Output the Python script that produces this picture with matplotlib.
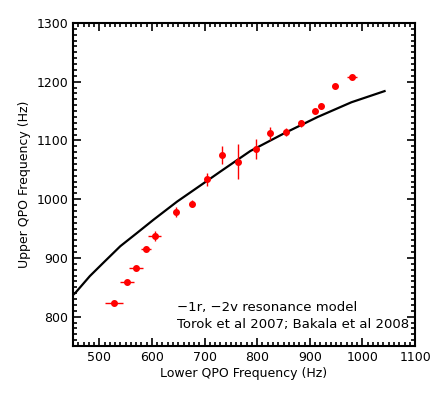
import matplotlib
matplotlib.use("Agg")
import matplotlib.pyplot as plt
import numpy as np
from matplotlib.ticker import MultipleLocator

lower = [528, 552, 570, 589, 605, 646, 676, 704, 734, 763, 798, 824, 855, 884, 909, 921, 948, 980]
upper = [823, 859, 882, 916, 937, 978, 992, 1034, 1075, 1064, 1085, 1112, 1115, 1129, 1150, 1158, 1192, 1208]
lower_err = [17, 13, 13, 10, 13, 3, 3, 3, 3, 3, 3, 3, 4, 4, 3, 3, 6, 10]
upper_err = [3, 3, 3, 5, 9, 9, 6, 11, 15, 30, 17, 11, 7, 6, 3, 5, 3, 3]

# resonance model curve
model_lower = [450, 455, 482, 508, 540, 571, 603, 648, 698, 730, 787, 851, 915, 979, 1042]
model_upper = [837, 841, 869, 892, 920, 942, 965, 996, 1027, 1047, 1082, 1112, 1140, 1165, 1184]

plt.rcParams['font.family'] = ['DejaVu Sans']
plt.rcParams['font.size'] = 9

fig = plt.figure(figsize=(4.36, 3.93), dpi=100)
ax = fig.add_axes([0.1674, 0.1196, 0.952 - 0.1674, 0.9415 - 0.1196])

ax.plot(model_lower, model_upper, color='black', linewidth=1.6, zorder=2)
ax.errorbar(lower, upper, xerr=lower_err, yerr=upper_err, fmt='o', color='red',
            markersize=4, elinewidth=1, capsize=0, zorder=3)

ax.set_xlim(450, 1100)
ax.set_ylim(750, 1300)
ax.xaxis.set_major_locator(MultipleLocator(100))
ax.xaxis.set_minor_locator(MultipleLocator(10))
ax.yaxis.set_major_locator(MultipleLocator(100))
ax.yaxis.set_minor_locator(MultipleLocator(10))
ax.tick_params(which='both', direction='in', top=True, right=True, width=1.2)
ax.tick_params(which='major', length=6)
ax.tick_params(which='minor', length=3)
for s in ax.spines.values():
    s.set_linewidth(1.5)

ax.set_xlabel("Lower QPO Frequency (Hz)", labelpad=2)
ax.set_ylabel("Upper QPO Frequency (Hz)", labelpad=4)

ax.text(648, 816, "\u22121r, \u22122v resonance model", va='center', ha='left', fontsize=9.5)
ax.text(648, 786, "Torok et al 2007; Bakala et al 2008", va='center', ha='left', fontsize=9.5)

fig.savefig("out.png", dpi=100)
